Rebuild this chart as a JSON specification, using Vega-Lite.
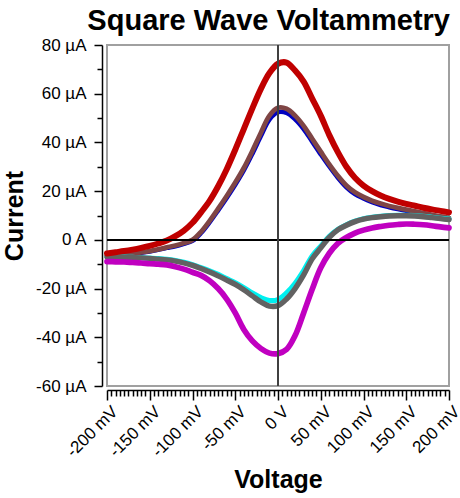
{
  "$schema": "https://vega.github.io/schema/vega-lite/v6.json",
  "autosize": "none",
  "width": 342,
  "height": 341,
  "padding": {"left": 107, "top": 45, "right": 11, "bottom": 112},
  "title": {"text": "Square Wave Voltammetry", "anchor": "end", "frame": "group", "fontSize": 29, "font": "Liberation Sans", "fontWeight": "bold", "color": "black", "offset": 0, "dx": 1},
  "data": {"values": [
    {"v": -200, "blue": -6.5, "brown": -6.3, "cyan": -6.9, "gray": -7.0, "magenta": -8.9, "red": -5.6},
    {"v": -190, "blue": -6.3, "brown": -6.1, "cyan": -7.0, "gray": -7.1, "magenta": -9.0, "red": -5.1},
    {"v": -180, "blue": -6.0, "brown": -5.8, "cyan": -7.1, "gray": -7.2, "magenta": -9.1, "red": -4.6},
    {"v": -170, "blue": -5.7, "brown": -5.5, "cyan": -7.2, "gray": -7.3, "magenta": -9.3, "red": -4.0},
    {"v": -160, "blue": -5.3, "brown": -5.1, "cyan": -7.3, "gray": -7.4, "magenta": -9.5, "red": -3.3},
    {"v": -150, "blue": -4.8, "brown": -4.6, "cyan": -7.5, "gray": -7.6, "magenta": -9.8, "red": -2.5},
    {"v": -140, "blue": -4.1, "brown": -3.9, "cyan": -7.7, "gray": -7.9, "magenta": -10.0, "red": -1.5},
    {"v": -130, "blue": -3.3, "brown": -3.1, "cyan": -8.0, "gray": -8.2, "magenta": -10.3, "red": -0.3},
    {"v": -120, "blue": -2.6, "brown": -2.3, "cyan": -8.5, "gray": -8.7, "magenta": -11.0, "red": 1.5},
    {"v": -110, "blue": -1.6, "brown": -1.3, "cyan": -9.2, "gray": -9.5, "magenta": -12.0, "red": 3.8},
    {"v": -100, "blue": -0.4, "brown": 0.0, "cyan": -10.2, "gray": -10.5, "magenta": -13.3, "red": 7.0},
    {"v": -90, "blue": 2.8, "brown": 3.3, "cyan": -11.4, "gray": -11.8, "magenta": -14.6, "red": 11.3},
    {"v": -80, "blue": 7.2, "brown": 7.8, "cyan": -12.7, "gray": -13.2, "magenta": -16.8, "red": 16.0},
    {"v": -70, "blue": 12.1, "brown": 12.8, "cyan": -14.2, "gray": -14.8, "magenta": -20.0, "red": 22.0},
    {"v": -60, "blue": 17.2, "brown": 18.0, "cyan": -15.9, "gray": -16.5, "magenta": -24.3, "red": 29.0},
    {"v": -50, "blue": 22.6, "brown": 23.5, "cyan": -17.6, "gray": -18.3, "magenta": -30.0, "red": 37.0},
    {"v": -40, "blue": 28.5, "brown": 29.5, "cyan": -19.6, "gray": -20.5, "magenta": -36.8, "red": 45.5},
    {"v": -30, "blue": 35.3, "brown": 36.5, "cyan": -21.8, "gray": -23.0, "magenta": -41.5, "red": 54.0},
    {"v": -20, "blue": 42.6, "brown": 44.0, "cyan": -23.7, "gray": -25.5, "magenta": -44.6, "red": 62.0},
    {"v": -10, "blue": 49.4, "brown": 51.0, "cyan": -24.9, "gray": -27.2, "magenta": -46.5, "red": 68.5},
    {"v": 0, "blue": 52.4, "brown": 54.2, "cyan": -24.5, "gray": -27.0, "magenta": -46.7, "red": 72.3},
    {"v": 10, "blue": 52.1, "brown": 53.8, "cyan": -21.8, "gray": -24.3, "magenta": -45.0, "red": 72.8},
    {"v": 20, "blue": 49.5, "brown": 51.0, "cyan": -17.8, "gray": -20.0, "magenta": -39.3, "red": 69.5},
    {"v": 30, "blue": 45.5, "brown": 46.8, "cyan": -12.6, "gray": -14.4, "magenta": -30.0, "red": 65.0},
    {"v": 40, "blue": 40.3, "brown": 41.5, "cyan": -6.6, "gray": -7.8, "magenta": -20.3, "red": 58.0},
    {"v": 50, "blue": 35.1, "brown": 36.2, "cyan": -2.6, "gray": -3.3, "magenta": -11.5, "red": 51.0},
    {"v": 60, "blue": 30.1, "brown": 31.0, "cyan": 1.4, "gray": 1.0, "magenta": -5.5, "red": 43.0},
    {"v": 70, "blue": 25.5, "brown": 26.3, "cyan": 4.3, "gray": 4.1, "magenta": -1.4, "red": 36.0},
    {"v": 80, "blue": 21.6, "brown": 22.3, "cyan": 6.2, "gray": 6.0, "magenta": 1.0, "red": 30.0},
    {"v": 90, "blue": 18.8, "brown": 19.5, "cyan": 7.7, "gray": 7.5, "magenta": 2.8, "red": 25.5},
    {"v": 100, "blue": 17.0, "brown": 17.6, "cyan": 8.7, "gray": 8.5, "magenta": 4.0, "red": 22.3},
    {"v": 110, "blue": 15.5, "brown": 16.1, "cyan": 9.3, "gray": 9.1, "magenta": 4.9, "red": 20.0},
    {"v": 120, "blue": 14.3, "brown": 14.9, "cyan": 9.7, "gray": 9.5, "magenta": 5.5, "red": 18.2},
    {"v": 130, "blue": 13.4, "brown": 13.9, "cyan": 10.0, "gray": 9.8, "magenta": 6.0, "red": 16.8},
    {"v": 140, "blue": 12.6, "brown": 13.1, "cyan": 10.1, "gray": 9.9, "magenta": 6.3, "red": 15.7},
    {"v": 150, "blue": 11.9, "brown": 12.4, "cyan": 10.1, "gray": 9.9, "magenta": 6.5, "red": 14.8},
    {"v": 160, "blue": 11.2, "brown": 11.7, "cyan": 10.0, "gray": 9.8, "magenta": 6.4, "red": 14.0},
    {"v": 170, "blue": 10.6, "brown": 11.0, "cyan": 9.7, "gray": 9.5, "magenta": 6.2, "red": 13.2},
    {"v": 180, "blue": 9.9, "brown": 10.3, "cyan": 9.3, "gray": 9.1, "magenta": 5.8, "red": 12.5},
    {"v": 190, "blue": 9.3, "brown": 9.6, "cyan": 8.9, "gray": 8.7, "magenta": 5.3, "red": 11.9},
    {"v": 200, "blue": 8.7, "brown": 9.0, "cyan": 8.5, "gray": 8.3, "magenta": 4.9, "red": 11.3}
  ]},
  "layer": [
    {
      "transform": [{"fold": ["blue", "brown", "cyan", "gray", "magenta", "red"], "as": ["series", "current"]}],
      "mark": {"type": "line", "interpolate": "catmull-rom", "strokeCap": "round", "strokeJoin": "round"},
      "encoding": {
        "x": {"field": "v", "type": "quantitative", "scale": {"domain": [-200, 200], "nice": false},
              "axis": {"orient": "bottom", "values": [-200, -150, -100, -50, 0, 50, 100, 150, 200], "labelExpr": "datum.value == 0 ? '0 V' : datum.value + ' mV'",
                       "labelAngle": -45, "labelAlign": "right", "labelBaseline": "top", "labelOverlap": false, "labelBound": false, "labelFlush": false,
                       "labelOffset": 2, "labelPadding": 3, "offset": 4, "tickSize": 10, "grid": false, "title": "Voltage", "titlePadding": 8}},
        "y": {"field": "current", "type": "quantitative", "scale": {"domain": [-60, 80], "nice": false, "zero": false},
              "axis": {"orient": "left", "values": [-60, -40, -20, 0, 20, 40, 60, 80], "labelExpr": "datum.value == 0 ? '0 A' : datum.value + ' µA'",
                       "labelOverlap": false, "labelFlush": false, "offset": 5, "tickSize": 8, "labelPadding": 8, "grid": false, "title": "Current", "titlePadding": 8}},
        "color": {"field": "series", "type": "nominal", "legend": null,
                  "scale": {"domain": ["blue", "brown", "cyan", "gray", "magenta", "red"], "range": ["#0000c0", "#7f4545", "#00f0f0", "#626262", "#c000c0", "#c00000"]}},
        "strokeWidth": {"field": "series", "type": "nominal", "legend": null,
                        "scale": {"domain": ["blue", "brown", "cyan", "gray", "magenta", "red"], "range": [4.5, 6, 4.5, 6, 5.5, 6.5]}}
      }
    },
    {
      "mark": {"type": "rule", "color": "black", "strokeWidth": 1.5},
      "encoding": {
        "y": {"datum": 0, "type": "quantitative",
              "axis": {"orient": "left", "values": [-50, -30, -10, 10, 30, 50, 70], "labels": false, "domain": false, "offset": 5, "tickSize": 5, "grid": false, "title": null}}
      }
    },
    {
      "mark": {"type": "rule", "color": "#404040", "strokeWidth": 2},
      "encoding": {
        "x": {"datum": 0, "type": "quantitative",
              "axis": {"orient": "bottom", "values": [-195, -190, -185, -180, -175, -170, -165, -160, -155, -145, -140, -135, -130, -125, -120, -115, -110, -105, -95, -90, -85, -80, -75, -70, -65, -60, -55, -45, -40, -35, -30, -25, -20, -15, -10, -5, 5, 10, 15, 20, 25, 30, 35, 40, 45, 55, 60, 65, 70, 75, 80, 85, 90, 95, 105, 110, 115, 120, 125, 130, 135, 140, 145, 155, 160, 165, 170, 175, 180, 185, 190, 195],
                       "labels": false, "domain": false, "offset": 4, "tickSize": 6, "grid": false, "title": null}}
      }
    }
  ],
  "resolve": {"axis": {"x": "independent", "y": "independent"}},
  "view": {"stroke": "#a0a0a0", "strokeWidth": 2},
  "config": {
    "font": "Liberation Sans",
    "axis": {"domainColor": "black", "domainWidth": 1.5, "tickColor": "black", "tickWidth": 1.5,
             "labelFont": "Liberation Sans", "labelFontSize": 17, "labelColor": "black",
             "titleFont": "Liberation Sans", "titleFontSize": 25, "titleFontWeight": "bold", "titleColor": "black"}
  }
}
